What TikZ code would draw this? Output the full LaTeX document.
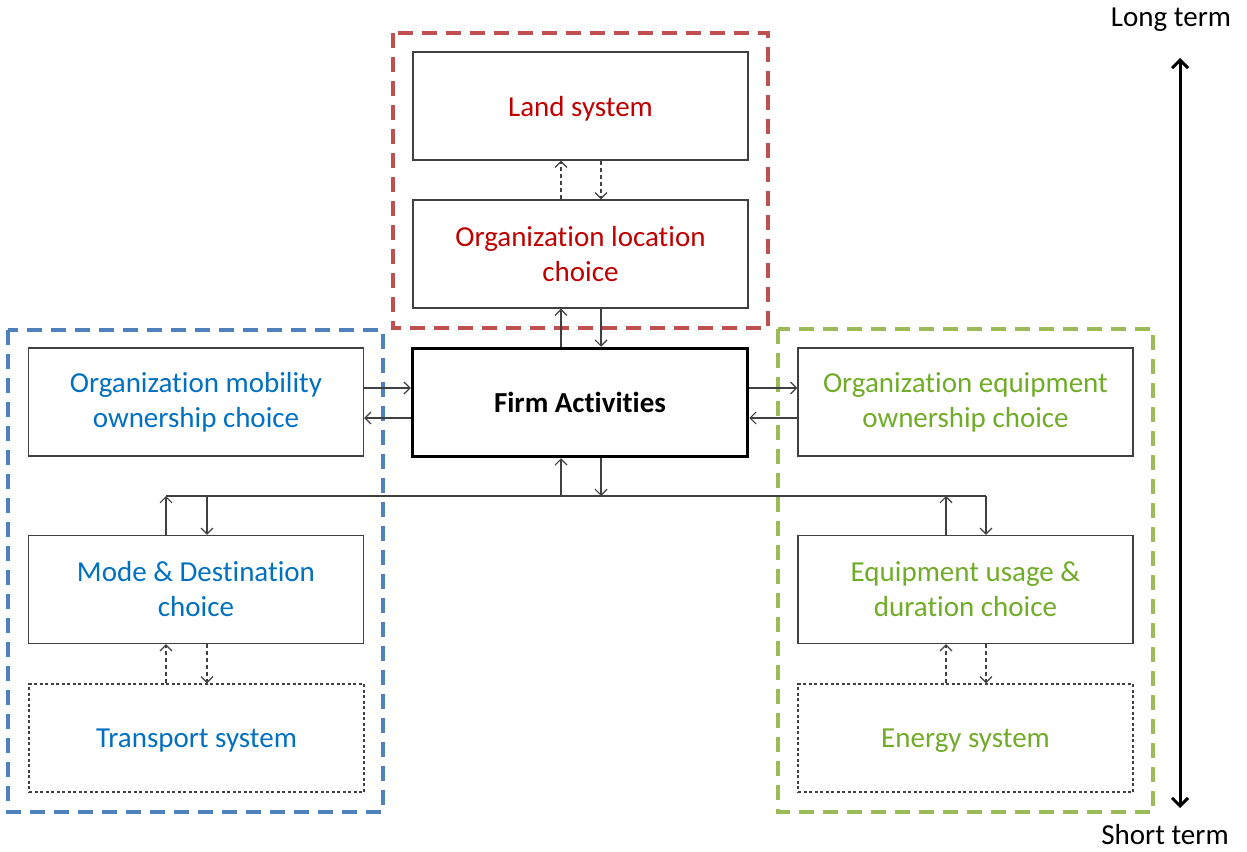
\documentclass[tikz,border=0pt]{standalone}
\usepackage{fontspec}
\setmainfont{Carlito}[Ligatures={NoCommon}]
\usetikzlibrary{arrows.meta}
\definecolor{tred}{RGB}{192,0,0}
\definecolor{tblue}{RGB}{0,112,192}
\definecolor{tgreen}{RGB}{112,172,40}
\definecolor{gred}{RGB}{192,80,77}
\definecolor{gblue}{RGB}{79,129,189}
\definecolor{ggreen}{RGB}{155,187,89}
\definecolor{lgray}{RGB}{64,64,64}
\tikzset{
  box/.style={draw=lgray, line width=1.2pt, rectangle, minimum width=335pt, minimum height=108pt, align=center, inner sep=0pt, font=\fontsize{29}{35}\selectfont},
  oneline/.style={text depth=0pt},
  sysbox/.style={box, dash pattern=on 3pt off 2.5pt},
  firmbox/.style={box, draw=black, line width=3.5pt, font=\fontsize{29}{35}\selectfont\bfseries},
  grp/.style={line width=3.2pt, dash pattern=on 15pt off 9pt},
  ar/.style={draw=lgray, line width=1.2pt, -{Straight Barb[length=6pt,width=12pt]}},
  dar/.style={ar, dash pattern=on 4pt off 3pt},
  termarrow/.style={draw=black, line width=3pt, {Straight Barb[length=8pt,width=16pt]}-{Straight Barb[length=8pt,width=16pt]}},
  termtxt/.style={font=\fontsize{29}{34}\selectfont, inner sep=0pt}
}
\begin{document}
\begin{tikzpicture}[x=1pt,y=-1pt]
\useasboundingbox (0,0) rectangle (1247,851);
% groups
\draw[grp, gred] (393,33) rectangle (768,328);
\draw[grp, gblue] (8,330) rectangle (383,812);
\draw[grp, ggreen] (778,329) rectangle (1153,812);
% nodes
\node[box, oneline, text=tred] (land) at (580.5,106) {Land system};
\node[box, text=tred] (loc) at (580.5,254) {Organization location\\choice};
\node[firmbox, oneline] (firm) at (580,402.5) {Firm Activities};
\node[box, text=tblue] (mob) at (196,402) {Organization mobility\\ownership choice};
\node[box, text=tgreen] (equip) at (965.5,402) {Organization equipment\\ownership choice};
\node[box, text=tblue] (mode) at (196,589.5) {Mode \& Destination\\choice};
\node[sysbox, oneline, text=tblue] (trans) at (196.5,738) {Transport system};
\node[box, text=tgreen] (usage) at (965.5,589.5) {Equipment usage \&\\duration choice};
\node[sysbox, oneline, text=tgreen] (energy) at (965.5,738) {Energy system};
% helper coordinates
\coordinate (cL) at (561,0);
\coordinate (cR) at (601,0);
\coordinate (r1) at (0,388);
\coordinate (r2) at (0,418);
\coordinate (busL) at (166,496);
\coordinate (b1) at (207,496);
\coordinate (b2) at (946,496);
\coordinate (busR) at (986,496);
% land <-> location
\draw[dar] (cL |- loc.north) -- (cL |- land.south);
\draw[dar] (cR |- land.south) -- (cR |- loc.north);
% location <-> firm
\draw[ar] (cL |- firm.north) -- (cL |- loc.south);
\draw[ar] (cR |- loc.south) -- (cR |- firm.north);
% mobility <-> firm
\draw[ar] (mob.east |- r1) -- (firm.west |- r1);
\draw[ar] (firm.west |- r2) -- (mob.east |- r2);
% firm <-> equipment
\draw[ar] (firm.east |- r1) -- (equip.west |- r1);
\draw[ar] (equip.west |- r2) -- (firm.east |- r2);
% bus
\draw[draw=lgray, line width=1.2pt] (busL) -- (busR);
\draw[ar] (cL |- busL) -- (cL |- firm.south);
\draw[ar] (cR |- firm.south) -- (cR |- busL);
\draw[ar] (mode.north -| busL) -- (busL);
\draw[ar] (b1) -- (mode.north -| b1);
\draw[ar] (usage.north -| b2) -- (b2);
\draw[ar] (busR) -- (usage.north -| busR);
% systems
\draw[dar] (trans.north -| busL) -- (mode.south -| busL);
\draw[dar] (mode.south -| b1) -- (trans.north -| b1);
\draw[dar] (energy.north -| b2) -- (usage.south -| b2);
\draw[dar] (usage.south -| busR) -- (energy.north -| busR);
% term arrow
\node[termtxt] (lt) at (1171,20) {Long term};
\node[termtxt] (st) at (1165,835) {Short term};
\coordinate (tTop) at (1180,58);
\coordinate (tBot) at (1180,808);
\draw[termarrow] (tTop) -- (tBot);
\end{tikzpicture}
\end{document}
